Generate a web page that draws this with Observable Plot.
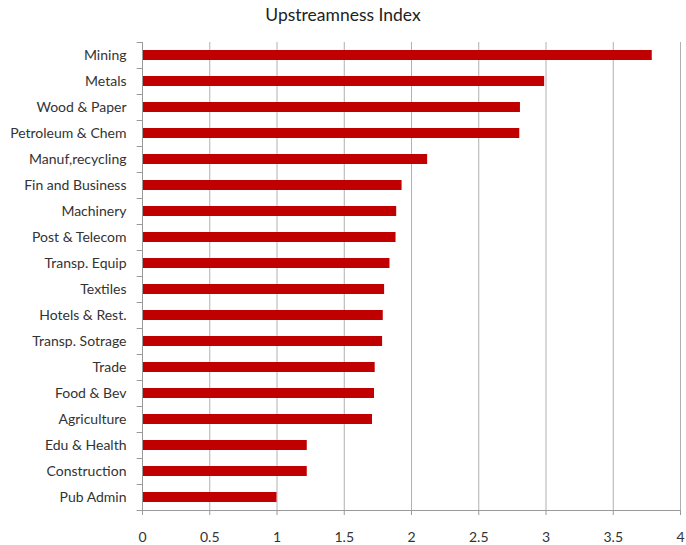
<!DOCTYPE html>
<html>
<head>
<meta charset="utf-8">
<script src="https://cdn.jsdelivr.net/npm/d3@7"></script>
<script src="https://cdn.jsdelivr.net/npm/@observablehq/plot@0.6"></script>
<style>
  html, body { margin: 0; padding: 0; background: #fff; }
  #title { width: 686px; height: 30px; line-height: 30px; text-align: center;
    font-family: Lato, "Liberation Sans", sans-serif; font-size: 17.5px; color: #222; }
  #chart svg { display: block; overflow: visible; }
</style>
</head>
<body>
<div id="title">Upstreamness Index</div>
<div id="chart"></div>
<script>
const categories = ["Mining","Metals","Wood & Paper","Petroleum & Chem","Manuf,recycling","Fin and Business","Machinery","Post & Telecom","Transp. Equip","Textiles","Hotels & Rest.","Transp. Sotrage","Trade","Food & Bev","Agriculture","Edu & Health","Construction","Pub Admin"];
const values = [3.79,2.99,2.81,2.805,2.12,1.93,1.89,1.885,1.84,1.80,1.79,1.785,1.73,1.725,1.71,1.225,1.225,1.0];
const xTicks = [0,0.5,1,1.5,2,2.5,3,3.5,4];

const data = categories.map((c, i) => ({category: c, value: values[i]}));

const width = 686, height = 515, mTop = 12, mBottom = 35;
const halfStep = (height - mTop - mBottom) / categories.length / 2;
const last = categories[categories.length - 1];
const gray = "#9a9a9a";

const chart = Plot.plot({
  width, height,
  marginTop: mTop, marginBottom: mBottom, marginLeft: 142, marginRight: 6,
  style: {fontFamily: "Lato, 'Liberation Sans', sans-serif", fontSize: "14px", color: "#333"},
  x: {domain: [0, 4]},
  y: {domain: categories, paddingInner: 0.6, paddingOuter: 0.3},
  marks: [
    Plot.gridX(xTicks, {stroke: "#b0b0b0", strokeOpacity: 1}),
    Plot.barX(data, {y: "category", x: "value", fill: "#C00000"}),
    Plot.ruleX([0], {stroke: gray}),
    Plot.ruleY([last], {x1: 0, x2: 4, dy: halfStep, stroke: gray}),
    Plot.ruleY(categories, {x1: -0.04, x2: 0, dy: -halfStep, stroke: gray}),
    Plot.ruleY([last], {x1: -0.04, x2: 0, dy: halfStep, stroke: gray}),
    Plot.axisX(xTicks, {tickSize: 5, tickPadding: 17, stroke: gray, tickFormat: d => String(d), label: null, fill: "#333"}),
    Plot.axisY({tickSize: 0, tickPadding: 16, label: null, fill: "#333"})
  ]
});
document.getElementById("chart").appendChild(chart);
</script>
</body>
</html>
